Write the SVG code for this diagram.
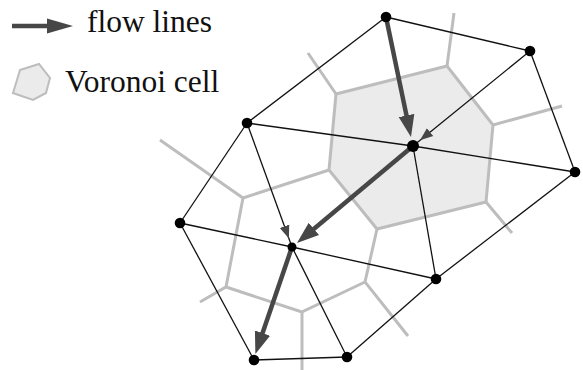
<svg xmlns="http://www.w3.org/2000/svg" width="583" height="370" viewBox="0 0 583 370">
<style>
.vor{fill:none;stroke:#bdbdbd;stroke-width:3;stroke-linecap:butt;stroke-linejoin:miter}
.cell{fill:#ebebeb;stroke:#bdbdbd;stroke-width:3}
.edge{stroke:#111;stroke-width:1.3;fill:none}
.flow{stroke:#474747;stroke-width:4.5;fill:none;marker-end:url(#bigArrow)}
.thin{marker-end:url(#smallArrow)}
.node{fill:#000}
.lbl{font-family:"Liberation Serif","Times New Roman",serif;font-size:31.5px;fill:#111}
</style>
<defs>
<marker id="bigArrow" markerUnits="userSpaceOnUse" markerWidth="30" markerHeight="20" viewBox="0 -10 30 20" refX="4" refY="0" orient="auto">
<path d="M0,-8 L22,0 L0,8 z" fill="#474747"/>
</marker>
<marker id="legendArrow" markerUnits="userSpaceOnUse" markerWidth="30" markerHeight="20" viewBox="0 -10 30 20" refX="4" refY="0" orient="auto">
<path d="M0,-7.5 L26,0 L0,7.5 z" fill="#474747"/>
</marker>
<marker id="smallArrow" markerUnits="userSpaceOnUse" markerWidth="30" markerHeight="14" viewBox="0 -7 30 14" refX="22" refY="0" orient="auto">
<path d="M0,-5 L13,0 L0,5 z" fill="#474747"/>
</marker>
</defs>

<g id="legend">
<line x1="12" y1="26" x2="51" y2="26" stroke="#474747" stroke-width="4.5" marker-end="url(#legendArrow)"/>
<text class="lbl" x="87" y="32">flow lines</text>
<polygon points="20,70 39,64 50,78 46,93 33,100 13,93" fill="#ebebeb" stroke="#bdbdbd" stroke-width="2"/>
<text class="lbl" x="65" y="92">Voronoi cell</text>
</g>

<g id="voronoi">
<polygon class="cell" points="336,94 447,66 493,125 486,202 377,229 329,170"/>
<path class="vor" d="M447,66 L454,13 M336,94 L308,53 M493,125 L562,106 M486,202 L512,233 M377,229 L365,282 L408,336 M365,282 L302,312 L302,370 M302,312 L226,287 L200,302 M226,287 L243,198 L329,170 M243,198 L160,140"/>
</g>

<g id="connectors">
<line class="edge" x1="386" y1="17" x2="530" y2="51"/>
<line class="edge" x1="386" y1="17" x2="247" y2="123"/>
<line class="edge" x1="530" y1="51" x2="575" y2="172"/>
<line class="edge thin" x1="530" y1="51" x2="413" y2="146"/>
<line class="edge" x1="247" y1="123" x2="413" y2="146"/>
<line class="edge" x1="413" y1="146" x2="575" y2="172"/>
<line class="edge" x1="247" y1="123" x2="180" y2="223"/>
<line class="edge thin" x1="247" y1="123" x2="292" y2="247"/>
<line class="edge" x1="413" y1="146" x2="436" y2="279"/>
<line class="edge" x1="180" y1="223" x2="292" y2="247"/>
<line class="edge" x1="292" y1="247" x2="436" y2="279"/>
<line class="edge" x1="180" y1="223" x2="254" y2="360"/>
<line class="edge" x1="292" y1="247" x2="347" y2="357"/>
<line class="edge" x1="254" y1="360" x2="347" y2="357"/>
<line class="edge" x1="347" y1="357" x2="436" y2="279"/>
<line class="edge" x1="436" y1="279" x2="575" y2="172"/>
<line class="flow" x1="386" y1="17" x2="407.3" y2="119.4"/>
<line class="flow" x1="413" y1="146" x2="310.8" y2="231.5"/>
<line class="flow" x1="292" y1="247" x2="261.2" y2="336.9"/>
</g>

<g id="n-top"><circle class="node" cx="386" cy="17" r="5.3"/></g>
<g id="n-rt"><circle class="node" cx="530" cy="51" r="5.3"/></g>
<g id="n-r"><circle class="node" cx="575" cy="172" r="5.3"/></g>
<g id="n-lu"><circle class="node" cx="247" cy="123" r="5.3"/></g>
<g id="n-c"><circle class="node" cx="413" cy="146" r="6"/></g>
<g id="n-l"><circle class="node" cx="180" cy="223" r="5.3"/></g>
<g id="n-m"><circle class="node" cx="292" cy="247" r="4.5"/></g>
<g id="n-br"><circle class="node" cx="436" cy="279" r="5.3"/></g>
<g id="n-bl"><circle class="node" cx="254" cy="360" r="5.3"/></g>
<g id="n-bm"><circle class="node" cx="347" cy="357" r="5.3"/></g>
</svg>
